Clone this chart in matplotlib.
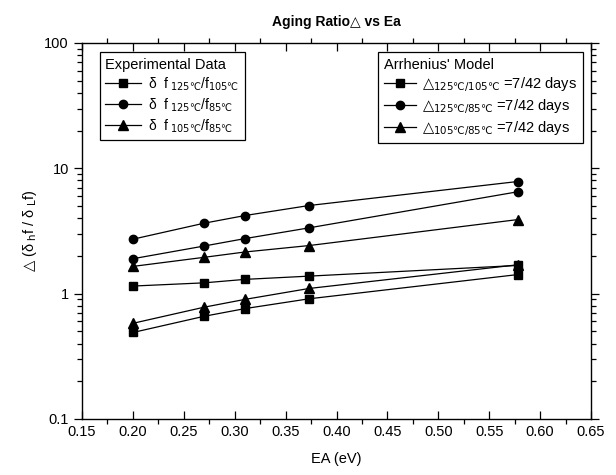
import matplotlib
matplotlib.use("Agg")
import matplotlib.pyplot as plt
from matplotlib.ticker import LogLocator, FixedLocator, NullFormatter, FuncFormatter

plt.rcParams['font.family'] = ['Liberation Sans', 'DejaVu Sans']
plt.rcParams['mathtext.fontset'] = 'dejavusans'

ea = [0.20, 0.27, 0.31, 0.373, 0.578]

exp_125_105 = [1.15, 1.22, 1.30, 1.38, 1.68]
exp_125_85 = [2.72, 3.65, 4.20, 5.05, 7.85]
exp_105_85 = [1.65, 1.95, 2.15, 2.42, 3.90]

arr_125_105 = [0.49, 0.66, 0.76, 0.91, 1.42]
arr_125_85 = [1.90, 2.40, 2.75, 3.35, 6.50]
arr_105_85 = [0.58, 0.78, 0.90, 1.10, 1.70]

exp_labels = [r'δ  f$_{\ 125℃}$/f$_{105℃}$',
              r'δ  f$_{\ 125℃}$/f$_{85℃}$',
              r'δ  f$_{\ 105℃}$/f$_{85℃}$']
arr_labels = [r'$△_{125℃/105℃}$ =7/42 days',
              r'$△_{125℃/85℃}$ =7/42 days',
              r'$△_{105℃/85℃}$ =7/42 days']

fig = plt.figure(figsize=(6.16, 4.75), dpi=100)
ax = fig.add_axes([82/616, 1-419/475, (591-82)/616, (419-43)/475])

kw = dict(color='black', lw=0.9)
e1, = ax.plot(ea, exp_125_105, marker='s', ms=5.5, **kw)
e2, = ax.plot(ea, exp_125_85, marker='o', ms=6, **kw)
e3, = ax.plot(ea, exp_105_85, marker='^', ms=6.5, **kw)
a1, = ax.plot(ea, arr_125_105, marker='s', ms=5.5, **kw)
a2, = ax.plot(ea, arr_125_85, marker='o', ms=6, **kw)
a3, = ax.plot(ea, arr_105_85, marker='^', ms=6.5, **kw)

ax.set_yscale('log')
ax.set_xlim(0.15, 0.65)
ax.set_ylim(0.1, 100)
ax.xaxis.set_major_locator(FixedLocator([0.15 + 0.05*i for i in range(11)]))
ax.xaxis.set_minor_locator(FixedLocator([0.175 + 0.05*i for i in range(10)]))
ax.xaxis.set_major_formatter(FuncFormatter(lambda v, p: f'{v:.2f}'))
ax.yaxis.set_major_locator(FixedLocator([0.1, 1, 10, 100]))
ax.yaxis.set_major_formatter(FuncFormatter(lambda v, p: f'{v:g}'))
ax.yaxis.set_minor_locator(LogLocator(base=10, subs=range(2, 10)))
ax.yaxis.set_minor_formatter(NullFormatter())

ax.tick_params(axis='x', which='major', direction='in', length=6, width=0.9,
               top=True, labelsize=10.5, pad=4)
ax.tick_params(axis='x', which='minor', direction='out', length=3.5, width=0.9, top=True)
ax.tick_params(axis='y', which='major', direction='out', length=6, width=0.9,
               right=True, labelsize=10.5)
ax.tick_params(axis='y', which='minor', direction='out', length=3.5, width=0.9, right=True)
for s in ax.spines.values():
    s.set_linewidth(1.0)

ax.set_xlabel('EA (eV)', fontsize=10.5, labelpad=10)
ax.set_ylabel(r'$△$ (δ$_{\mathrm{\ h}}$f / δ$_{\mathrm{\ L}}$f)', fontsize=10.5, labelpad=4)
ax.set_title('Aging Ratio△ vs Ea', fontsize=10, fontweight='bold', pad=12)

leg1 = ax.legend([e1, e2, e3], exp_labels, title='Experimental Data',
                 loc='upper left', bbox_to_anchor=(0.035, 0.976),
                 frameon=True, fancybox=False, edgecolor='black', framealpha=1,
                 fontsize=10, title_fontsize=10.5, alignment='left',
                 handlelength=2.6, handletextpad=0.5, labelspacing=0.3,
                 borderpad=0.4, borderaxespad=0)
leg1.get_frame().set_linewidth(0.9)
ax.add_artist(leg1)
leg2 = ax.legend([a1, a2, a3], arr_labels, title="Arrhenius' Model",
                 loc='upper right', bbox_to_anchor=(0.984, 0.976),
                 frameon=True, fancybox=False, edgecolor='black', framealpha=1,
                 fontsize=10.5, title_fontsize=10.5, alignment='left',
                 handlelength=2.2, handletextpad=0.4, labelspacing=0.2,
                 borderpad=0.4, borderaxespad=0)
leg2.get_frame().set_linewidth(0.9)

fig.savefig('out.png', dpi=100)
